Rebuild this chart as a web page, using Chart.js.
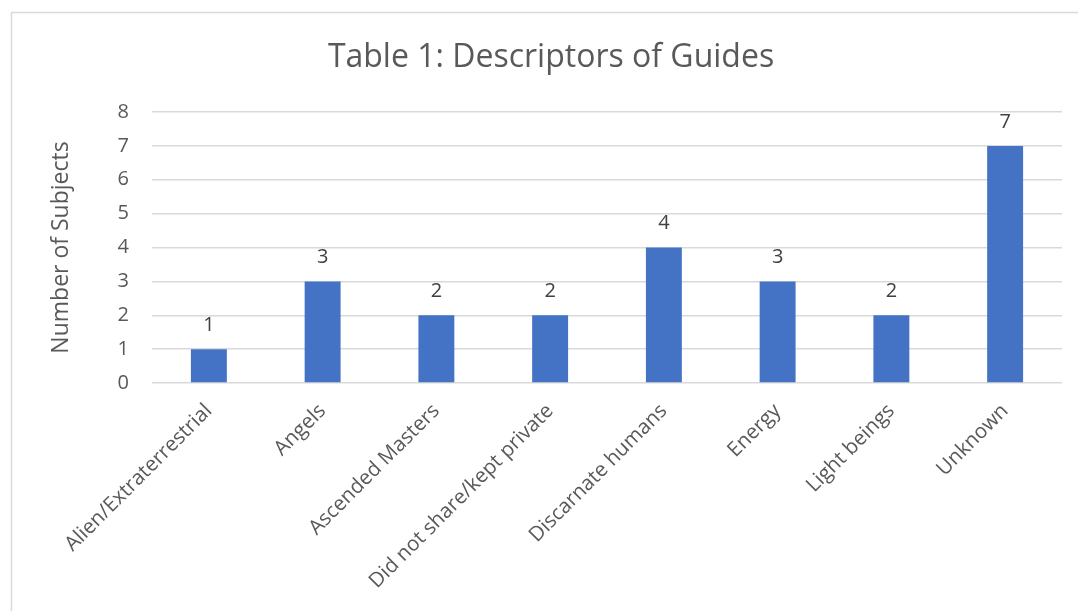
<!DOCTYPE html>
<html>
<head>
<meta charset="utf-8">
<script src="https://cdn.jsdelivr.net/npm/chart.js@4"></script>
<style>
  html, body { margin: 0; padding: 0; background: #fff; }
  #wrap { position: relative; width: 1078px; height: 611px; }
</style>
</head>
<body>
<div id="wrap"><canvas id="chart"></canvas></div>
<script>
const categories = [
    'Alien/Extraterrestrial', 'Angels', 'Ascended Masters', 'Did not share/kept private',
    'Discarnate humans', 'Energy', 'Light beings', 'Unknown'
];
const subjectCounts = [1, 3, 2, 2, 4, 3, 2, 7];
const yTicks = [0, 1, 2, 3, 4, 5, 6, 7, 8];

const textColor = '#595959';
const gridColor = '#d9d9d9';
const fontFamily = '"Open Sans", "Noto Sans", sans-serif';

// outer chart frame (only top and left edges fall inside the picture)
const framePlugin = {
    id: 'frame',
    beforeDraw(chart) {
        const ctx = chart.ctx;
        ctx.save();
        ctx.fillStyle = '#fff';
        ctx.fillRect(0, 0, chart.width, chart.height);
        ctx.strokeStyle = gridColor;
        ctx.lineWidth = 1.5;
        ctx.beginPath();
        ctx.moveTo(11.5, chart.height);
        ctx.lineTo(11.5, 12.5);
        ctx.lineTo(chart.width, 12.5);
        ctx.stroke();
        ctx.restore();
    }
};

// value labels above each bar
const valueLabels = {
    id: 'valueLabels',
    afterDatasetsDraw(chart) {
        const ctx = chart.ctx;
        const meta = chart.getDatasetMeta(0);
        ctx.save();
        ctx.font = '20px ' + fontFamily;
        ctx.fillStyle = '#404040';
        ctx.textAlign = 'center';
        ctx.textBaseline = 'middle';
        meta.data.forEach((bar, i) => {
            ctx.fillText(String(subjectCounts[i]), bar.x, bar.y - 24);
        });
        ctx.restore();
    }
};

new Chart(document.getElementById('chart').getContext('2d'), {
    type: 'bar',
    data: {
        labels: categories,
        datasets: [{
            label: 'Number of Subjects',
            data: subjectCounts,
            backgroundColor: '#4472C4',
            categoryPercentage: 1,
            barPercentage: 0.316
        }]
    },
    options: {
        responsive: true,
        maintainAspectRatio: false,
        animation: false,
        // left padding shifts the centred title to match the outer frame
        layout: { padding: { top: 0, left: 40, right: 16, bottom: 0 } },
        plugins: {
            legend: { display: false },
            tooltip: { enabled: false },
            title: {
                display: true,
                text: 'Table 1: Descriptors of Guides',
                color: textColor,
                font: { family: fontFamily, size: 32, weight: 'normal' },
                padding: { top: 39, bottom: 34.6 }
            }
        },
        scales: {
            x: {
                grid: { display: false },
                border: { display: false },
                ticks: {
                    color: textColor,
                    font: { family: fontFamily, size: 20.5 },
                    minRotation: 45,
                    maxRotation: 45,
                    autoSkip: false,
                    padding: 8
                },
                afterFit: s => { s.height = 228; }
            },
            y: {
                min: 0,
                max: 8,
                afterBuildTicks: s => { s.ticks = yTicks.map(v => ({ value: v })); },
                grid: { color: gridColor, lineWidth: 1.5, drawTicks: false },
                border: { display: false },
                ticks: {
                    color: textColor,
                    font: { family: fontFamily, size: 20 },
                    padding: 23
                },
                title: {
                    display: true,
                    text: 'Number of Subjects',
                    color: textColor,
                    font: { family: fontFamily, size: 23 },
                    padding: { top: 8, bottom: 0 }
                },
                afterFit: s => { s.width = 112; }
            }
        }
    },
    plugins: [framePlugin, valueLabels]
});
</script>
</body>
</html>
